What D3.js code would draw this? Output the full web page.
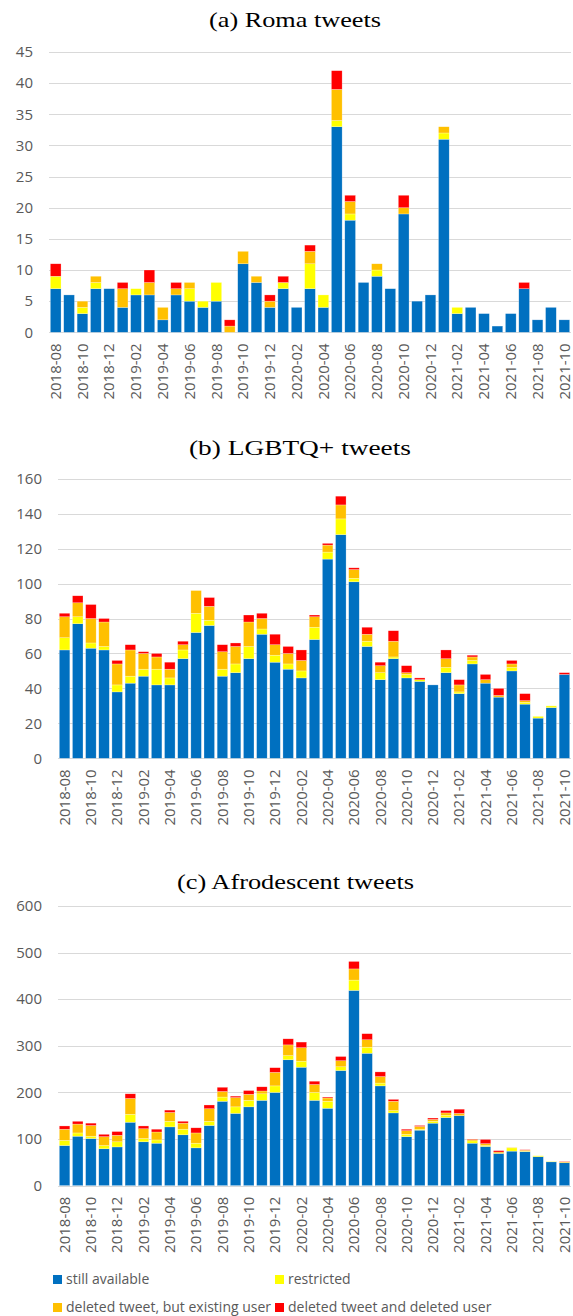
<!DOCTYPE html>
<html>
<head>
<meta charset="utf-8">
<script src="https://cdn.jsdelivr.net/npm/d3@7"></script>
<style>
  html, body { margin: 0; padding: 0; background: #fff; }
  svg { display: block; }
</style>
</head>
<body>
<svg id="chart" width="573" height="1316"></svg>
<script>
// ---------- DATA ----------
const months = ["2018-08","2018-09","2018-10","2018-11","2018-12",
  "2019-01","2019-02","2019-03","2019-04","2019-05","2019-06","2019-07","2019-08","2019-09","2019-10","2019-11","2019-12",
  "2020-01","2020-02","2020-03","2020-04","2020-05","2020-06","2020-07","2020-08","2020-09","2020-10","2020-11","2020-12",
  "2021-01","2021-02","2021-03","2021-04","2021-05","2021-06","2021-07","2021-08","2021-09","2021-10"];

const seriesNames = ["still available", "restricted", "deleted tweet, but existing user", "deleted tweet and deleted user"];
const seriesColors = ["#0070C0", "#FFFF00", "#FFC000", "#FF0000"];

// (a) Roma
const romaAvailable = [7,6,3,7,7,4,6,6,2,6,5,4,5,0,11,8,4,7,4,7,4,33,18,8,9,7,19,5,6,31,3,4,3,1,3,7,2,4,2];
const romaRestricted = [2,0,1,1,0,0,1,0,0,0,2,1,3,0,0,0,0,1,0,4,2,1,1,0,1,0,0,0,0,1,1,0,0,0,0,0,0,0,0];
const romaDeletedTweet = [0,0,1,1,0,3,0,2,2,1,1,0,0,1,2,1,1,0,0,2,0,5,2,0,1,0,1,0,0,1,0,0,0,0,0,0,0,0,0];
const romaDeletedUser = [2,0,0,0,0,1,0,2,0,1,0,0,0,1,0,0,1,1,0,1,0,3,1,0,0,0,2,0,0,0,0,0,0,0,0,1,0,0,0];
const romaTicks = [0,5,10,15,20,25,30,35,40,45];

// (b) LGBTQ+
const lgbtAvailable = [62,77,63,62,38,43,47,42,42,57,72,76,47,49,57,71,55,51,46,68,114,128,101,64,45,57,46,44,42,49,37,54,43,35,50,31,23,29,48];
const lgbtRestricted = [7,4,3,2,4,4,4,9,4,5,11,3,4,5,7,3,4,3,4,7,4,9,2,3,4,1,2,1,0,3,1,2,0,0,2,1,1,1,0];
const lgbtDeletedTweet = [12,8,14,14,12,15,9,7,5,3,13,8,10,10,14,6,6,6,6,6,4,8,5,4,4,9,1,0,0,5,4,2,2,1,2,1,0,0,0];
const lgbtDeletedUser = [2,4,8,2,2,3,1,2,4,2,0,5,4,2,4,3,6,4,6,1,1,5,1,4,2,6,4,1,0,5,3,1,3,4,2,4,0,0,1];
const lgbtTicks = [0,20,40,60,80,100,120,140,160];

// (c) Afrodescent
const afroAvailable = [86,106,101,79,83,136,94,91,126,109,81,129,181,155,169,183,200,270,254,183,166,247,419,284,214,156,105,119,134,146,150,91,84,69,74,73,62,51,49];
const afroRestricted = [11,7,5,7,11,17,7,7,12,12,10,9,9,14,14,14,14,9,13,17,15,8,22,13,6,5,5,2,4,5,0,5,2,0,7,1,2,1,0];
const afroDeletedTweet = [24,19,23,19,14,34,21,17,19,13,22,27,12,20,13,6,29,23,29,17,7,13,24,16,14,20,8,6,4,5,5,3,4,3,1,2,0,0,2];
const afroDeletedUser = [7,6,5,5,8,10,6,6,5,4,11,8,9,3,8,9,10,13,12,7,2,9,16,13,10,4,3,2,3,5,9,1,9,3,0,1,0,0,1];
const afroTicks = [0,100,200,300,400,500,600];

// ---------- DRAW ----------
const svg = d3.select("#chart");
const tickFont = "'Open Sans', 'DejaVu Sans', sans-serif";
const textGrey = "#595959";
const gridGrey = "#d9d9d9";

const panels = [
  { title: "(a) Roma tweets", titleX: 295, titleY: 27, titleW: 172,
    series: [romaAvailable, romaRestricted, romaDeletedTweet, romaDeletedUser],
    ticks: romaTicks, x0: 49, x1: 571, yTop: 52, yBottom: 332.3 },
  { title: "(b) LGBTQ+ tweets", titleX: 300, titleY: 454.5, titleW: 222,
    series: [lgbtAvailable, lgbtRestricted, lgbtDeletedTweet, lgbtDeletedUser],
    ticks: lgbtTicks, x0: 58, x1: 571, yTop: 478.7, yBottom: 758.3 },
  { title: "(c) Afrodescent tweets", titleX: 295.5, titleY: 888.5, titleW: 237,
    series: [afroAvailable, afroRestricted, afroDeletedTweet, afroDeletedUser],
    ticks: afroTicks, x0: 58, x1: 571, yTop: 906, yBottom: 1185.6 }
];

panels.forEach(p => {
  const g = svg.append("g");
  const rows = months.map((m, i) => {
    const r = { month: m };
    seriesNames.forEach((s, k) => r[s] = p.series[k][i]);
    return r;
  });
  const x = d3.scaleBand().domain(months).range([p.x0, p.x1]).paddingInner(0.2).paddingOuter(0.1);
  const y = d3.scaleLinear().domain([0, d3.max(p.ticks)]).range([p.yBottom, p.yTop]);

  // title
  g.append("text")
    .attr("x", p.titleX).attr("y", p.titleY)
    .attr("text-anchor", "middle")
    .attr("font-family", "'Liberation Serif', 'Times New Roman', serif")
    .attr("font-size", 22)
    .attr("textLength", p.titleW)
    .attr("lengthAdjust", "spacingAndGlyphs")
    .attr("fill", "#000")
    .text(p.title);

  // gridlines
  g.append("g").selectAll("line").data(p.ticks).join("line")
    .attr("x1", p.x0).attr("x2", p.x1)
    .attr("y1", d => Math.round(y(d)) + 0.5).attr("y2", d => Math.round(y(d)) + 0.5)
    .attr("stroke", gridGrey).attr("stroke-width", 1);

  // y tick labels
  g.append("g").selectAll("text").data(p.ticks).join("text")
    .attr("x", p.x0 - 16).attr("y", d => y(d))
    .attr("dy", "0.35em")
    .attr("text-anchor", "end")
    .attr("font-family", tickFont).attr("font-size", 15)
    .attr("fill", textGrey)
    .text(d => d);

  // bars
  const stacked = d3.stack().keys(seriesNames)(rows);
  g.append("g").selectAll("g").data(stacked).join("g")
    .attr("fill", (d, i) => seriesColors[i])
    .selectAll("rect").data(d => d).join("rect")
      .attr("x", d => x(d.data.month))
      .attr("width", x.bandwidth())
      .attr("y", d => y(d[1]))
      .attr("height", d => Math.max(0, y(d[0]) - y(d[1])))
      .attr("stroke", "#ffffff").attr("stroke-width", 0.5).attr("stroke-opacity", 0.5);

  // x labels (every other month)
  const labelY = p.yBottom + 11;
  g.append("g").selectAll("text").data(months.filter((m, i) => i % 2 === 0)).join("text")
    .attr("transform", d => `translate(${x(d) + x.bandwidth() / 2},${labelY}) rotate(-90)`)
    .attr("dy", "0.35em")
    .attr("text-anchor", "end")
    .attr("font-family", tickFont).attr("font-size", 15)
    .attr("fill", textGrey)
    .text(d => d);
});

// legend
const legendItems = [
  { name: seriesNames[0], color: seriesColors[0], x: 53, y: 1275 },
  { name: seriesNames[1], color: seriesColors[1], x: 275, y: 1275 },
  { name: seriesNames[2], color: seriesColors[2], x: 53, y: 1303 },
  { name: seriesNames[3], color: seriesColors[3], x: 275, y: 1303 }
];
const lg = svg.append("g");
lg.selectAll("rect").data(legendItems).join("rect")
  .attr("x", d => d.x).attr("y", d => d.y).attr("width", 9).attr("height", 9)
  .attr("fill", d => d.color);
lg.selectAll("text").data(legendItems).join("text")
  .attr("x", d => d.x + 13).attr("y", d => d.y + 9)
  .attr("font-family", tickFont).attr("font-size", 14)
  .attr("fill", textGrey)
  .text(d => d.name);
</script>
</body>
</html>
